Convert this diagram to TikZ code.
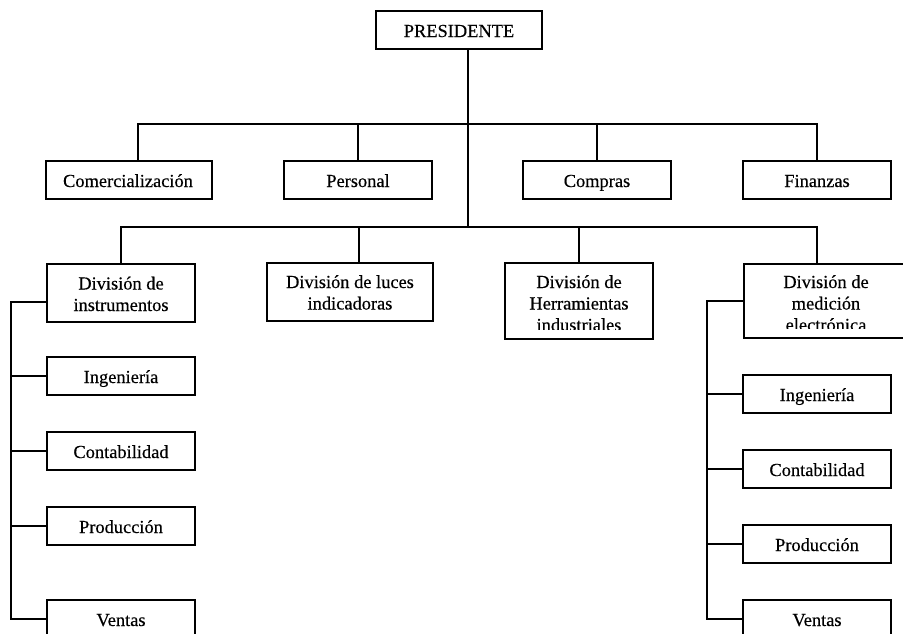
\documentclass[tikz,border=0pt]{standalone}
\usepackage{fontspec}
\setmainfont[FakeBold=0.4]{Liberation Serif}
\usetikzlibrary{calc}
\begin{document}
\begin{tikzpicture}[x=1pt,y=-1pt,
  box/.style={draw, line width=1.6pt, rectangle, inner sep=0pt},
  wire/.style={line width=1.6pt},
  txt/.style={anchor=base, inner sep=0pt, font=\fontsize{18.4}{21}\selectfont}]
\clip (0,0) rectangle (903,633);

% boxes
\node[box, minimum width=166pt, minimum height=38pt] (pres) at (459,30) {};
\node[box, minimum width=166pt, minimum height=38pt] (com) at (129,180) {};
\node[box, minimum width=148pt, minimum height=38pt] (per) at (358,180) {};
\node[box, minimum width=148pt, minimum height=38pt] (comp) at (597,180) {};
\node[box, minimum width=148pt, minimum height=38pt] (fin) at (817,180) {};
\node[box, minimum width=148pt, minimum height=58pt] (inst) at (121,293) {};
\node[box, minimum width=166pt, minimum height=58pt] (luc) at (350,292) {};
\node[box, minimum width=148pt, minimum height=76pt] (herr) at (579,301) {};
\node[box, minimum width=164pt, minimum height=74pt] (med) at (826,301) {};
\node[box, minimum width=148pt, minimum height=38pt] (ling) at (121,376) {};
\node[box, minimum width=148pt, minimum height=38pt] (lcont) at (121,451) {};
\node[box, minimum width=148pt, minimum height=38pt] (lprod) at (121,526) {};
\node[box, minimum width=148pt, minimum height=38pt] (lvent) at (121,619) {};
\node[box, minimum width=148pt, minimum height=38pt] (ring) at (817,394) {};
\node[box, minimum width=148pt, minimum height=38pt] (rcont) at (817,469) {};
\node[box, minimum width=148pt, minimum height=38pt] (rprod) at (817,544) {};
\node[box, minimum width=148pt, minimum height=38pt] (rvent) at (817,619) {};

% junction points of the buses and spines
\coordinate (j1) at (468,124);
\coordinate (j2) at (468,227);
\coordinate (c1) at (138,124);
\coordinate (c2) at (817,227);
\coordinate (c3) at (359,227);
\coordinate (ls) at (11,302);
\coordinate (rs) at (707,301);

% trunk and staff bus
\draw[wire] (pres.south -| j1) -- (j2);
\draw[wire] (c1 |- com.north) -- (c1) -- (fin.north |- j1) -- (fin.north);
\draw[wire] (per.north |- j1) -- (per.north);
\draw[wire] (comp.north |- j1) -- (comp.north);

% division bus
\draw[wire] (inst.north) -- (inst.north |- j2) -- (c2) -- (c2 |- med.north);
\draw[wire] (c3) -- (c3 |- luc.north);
\draw[wire] (herr.north |- j2) -- (herr.north);

% left spine
\draw[wire] (inst.west |- ls) -- (ls) -- (ls |- lvent.west) -- (lvent.west);
\draw[wire] (ls |- ling.west) -- (ling.west);
\draw[wire] (ls |- lcont.west) -- (lcont.west);
\draw[wire] (ls |- lprod.west) -- (lprod.west);

% right spine
\draw[wire] (med.west |- rs) -- (rs) -- (rs |- rvent.west) -- (rvent.west);
\draw[wire] (rs |- ring.west) -- (ring.west);
\draw[wire] (rs |- rcont.west) -- (rcont.west);
\draw[wire] (rs |- rprod.west) -- (rprod.west);

% labels
\node[txt] (tpres) at (459,37) {PRESIDENTE};
\node[txt] (tcom) at (128,187) {Comercialización};
\node[txt] (tper) at (358,187) {Personal};
\node[txt] (tcomp) at (597,187) {Compras};
\node[txt] (tfin) at (817,187) {Finanzas};

\node[txt] (tinst1) at (121,289.5) {División de};
\node[txt] (tinst2) at (121,311) {instrumentos};
\node[txt] (tluc1) at (350,288) {División de luces};
\node[txt] (tluc2) at (350,309.5) {indicadoras};
\node[txt] (therr1) at (579,288) {División de};
\node[txt] (therr2) at (579,309.5) {Herramientas};
\node[txt] (tmed1) at (826,288) {División de};
\node[txt] (tmed2) at (826,309.5) {medición};

% third lines run past the inner margin and are cut off
\begin{scope}
  \clip (herr.north west) rectangle ($(herr.south east)+(0,-10)$);
  \node[txt] (therr3) at (579,331) {industriales};
\end{scope}
\begin{scope}
  \clip (med.north west) rectangle ($(med.south east)+(0,-10)$);
  \node[txt] (tmed3) at (826,331) {electrónica};
\end{scope}

\node[txt] (tling) at (121,383) {Ingeniería};
\node[txt] (tlcont) at (121,458) {Contabilidad};
\node[txt] (tlprod) at (121,533) {Producción};
\node[txt] (tlvent) at (121,626) {Ventas};
\node[txt] (tring) at (817,401) {Ingeniería};
\node[txt] (trcont) at (817,476) {Contabilidad};
\node[txt] (trprod) at (817,551) {Producción};
\node[txt] (trvent) at (817,626) {Ventas};
\end{tikzpicture}
\end{document}
